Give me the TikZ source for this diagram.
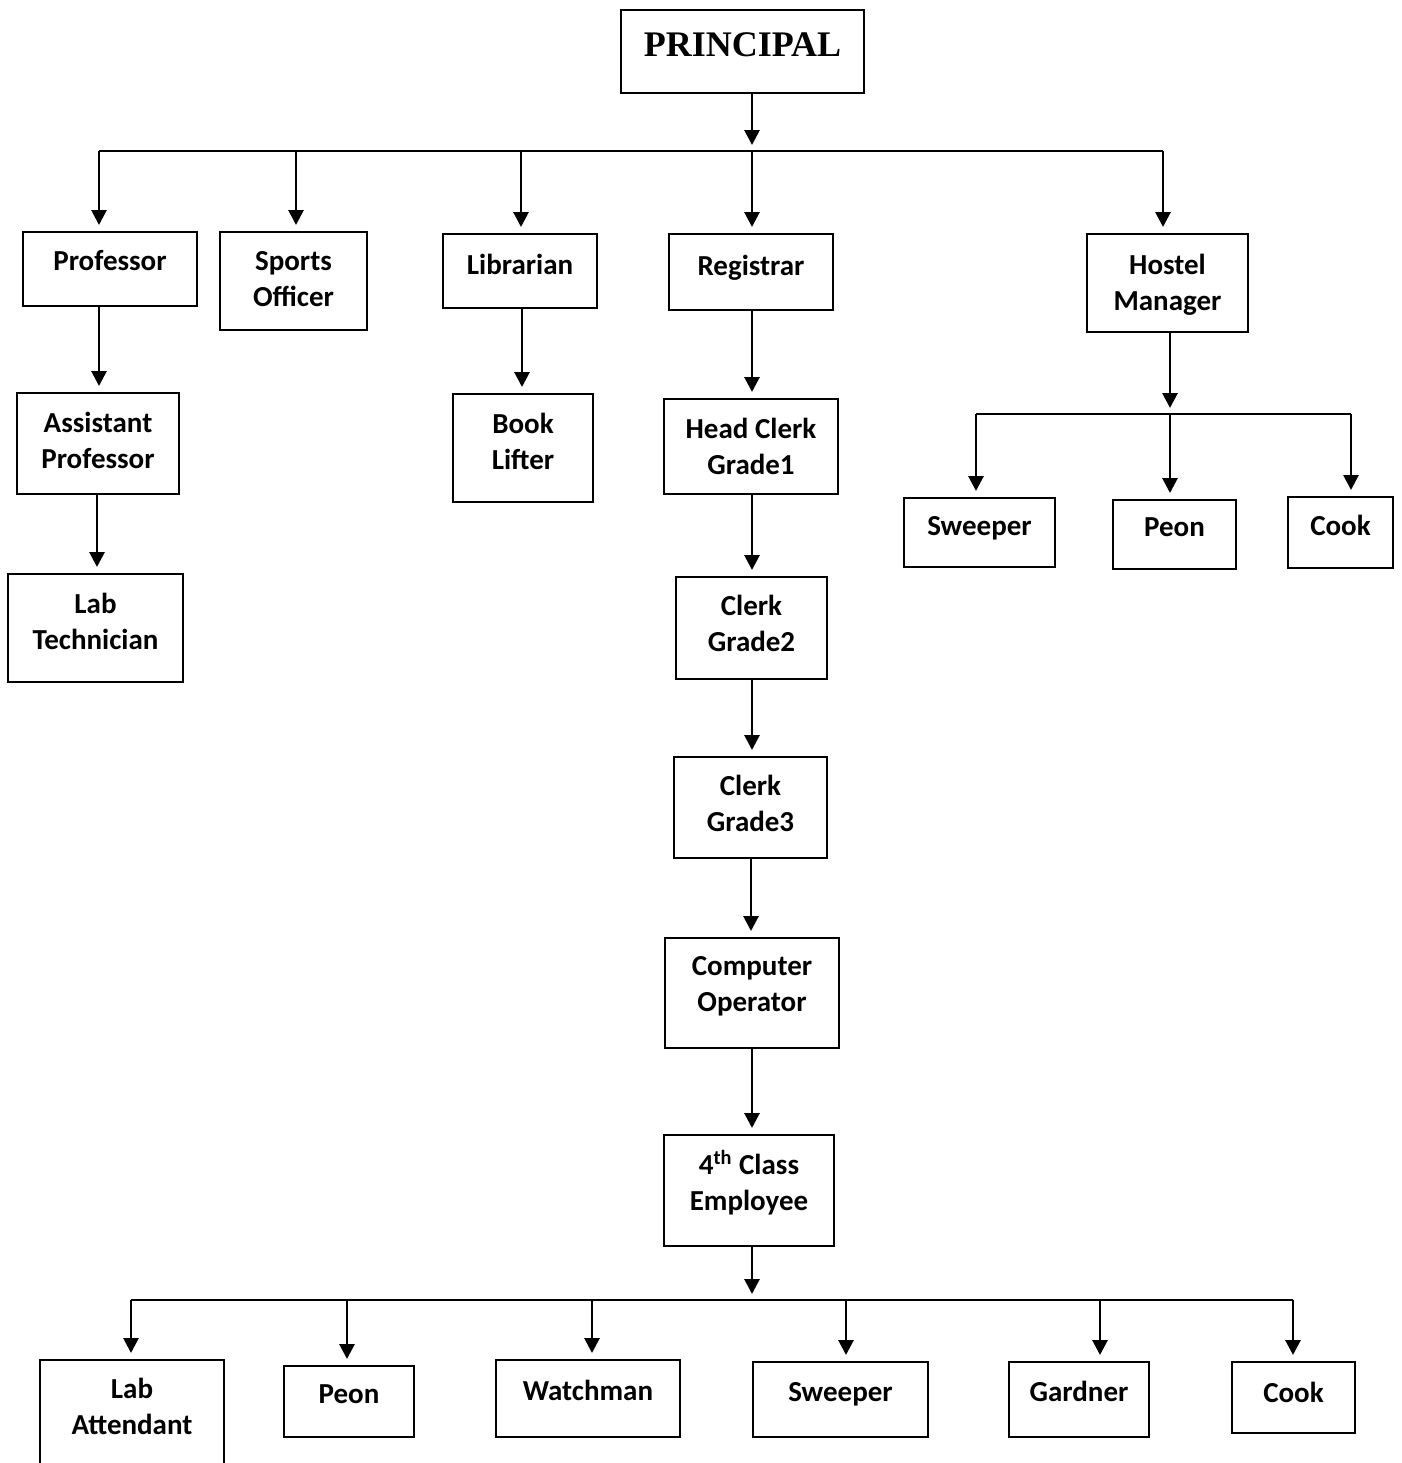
\documentclass[tikz,border=0pt]{standalone}
\usepackage{fontspec}
\setmainfont{Carlito}
\newfontfamily\headfont{Liberation Serif}
\usetikzlibrary{arrows.meta}

\begin{document}
\begin{tikzpicture}[x=0.5pt, y=-0.5pt,
  box/.style = {draw, rectangle, line width=1pt, align=center, inner sep=0pt, text depth=7pt,
                font=\fontsize{14.5}{18}\selectfont\bfseries},
  link/.style = {line width=1.4pt, -{Triangle[width=7.5pt, length=7.5pt]}, shorten >=3pt},
  bar/.style = {line width=1pt}]
\useasboundingbox (0,0) rectangle (1402,1463);

% head
\node[box, minimum width=121.5pt, minimum height=41.5pt,
      font=\fontsize{18}{20}\selectfont\headfont\bfseries] (principal) at (742.5,51.5) {PRINCIPAL};

% first level
\node[box, minimum width=87pt, minimum height=37pt, text depth=9pt] (prof) at (110,269) {Professor};
\node[box, minimum width=73.5pt, minimum height=49pt, text depth=2pt] (sports) at (293.5,281) {Sports\\Officer};
\node[box, minimum width=77pt, minimum height=37pt] (lib) at (520,271) {Librarian};
\node[box, minimum width=82pt, minimum height=38pt] (reg) at (751,272) {Registrar};
\node[box, minimum width=80.5pt, minimum height=49pt, text depth=1pt] (hostel) at (1167.5,283) {Hostel\\Manager};

% professor / library branch
\node[box, minimum width=81pt, minimum height=50.5pt, text depth=3pt] (asst) at (98,443.5) {Assistant\\Professor};
\node[box, minimum width=87.5pt, minimum height=54pt] (labtech) at (95.5,628) {Lab\\Technician};
\node[box, minimum width=70pt, minimum height=54pt] (book) at (523,448) {Book\\Lifter};

% registrar branch
\node[box, minimum width=87pt, minimum height=47.5pt, text depth=0pt] (head) at (751,446.5) {Head Clerk\\Grade1};
\node[box, minimum width=75.5pt, minimum height=51pt, text depth=5pt] (clerk2) at (751.5,628) {Clerk\\Grade2};
\node[box, minimum width=76.5pt, minimum height=50.5pt, text depth=4pt] (clerk3) at (750.5,807.5) {Clerk\\Grade3};
\node[box, minimum width=87pt, minimum height=55pt, text depth=9pt] (comp) at (752,993) {Computer\\Operator};
\node[box, minimum width=85pt, minimum height=55.5pt, text depth=10pt] (fourth) at (749,1190.5) {4\textsuperscript{th} Class\\Employee};

% hostel staff
\node[box, minimum width=75.5pt, minimum height=34.5pt] (hsweep) at (979.5,532.5) {Sweeper};
\node[box, minimum width=61.5pt, minimum height=34.5pt] (hpeon) at (1174.5,534.5) {Peon};
\node[box, minimum width=52.5pt, minimum height=35.5pt] (hcook) at (1340.5,532.5) {Cook};

% 4th class staff
\node[box, minimum width=92pt, minimum height=53pt] (labatt) at (132,1413) {Lab\\Attendant};
\node[box, minimum width=65pt, minimum height=35.5pt] (bpeon) at (349,1401.5) {Peon};
\node[box, minimum width=92pt, minimum height=38.5pt, text depth=8pt] (watch) at (588,1398.5) {Watchman};
\node[box, minimum width=87.5pt, minimum height=37.5pt, text depth=8pt] (bsweep) at (840.5,1399.5) {Sweeper};
\node[box, minimum width=70pt, minimum height=37.5pt, text depth=8pt] (gard) at (1079,1399.5) {Gardner};
\node[box, minimum width=61.5pt, minimum height=35.5pt, text depth=5pt] (bcook) at (1293.5,1397.5) {Cook};

% junctions
\coordinate (topL) at (99,151);
\coordinate (topR) at (1163,151);
\coordinate (midL) at (976,414);
\coordinate (midR) at (1351,414);
\coordinate (lowL) at (131,1300);
\coordinate (lowR) at (1293,1300);

\draw[bar] (topL) -- (topR);
\draw[bar] (midL) -- (midR);
\draw[bar] (lowL) -- (lowR);

\draw[link] (principal.south -| 752,0) -- (topL -| 752,0);
\draw[link] (hostel.south -| 1170,0) -- (midL -| 1170,0);
\draw[link] (fourth.south -| 752,0) -- (lowL -| 752,0);

\foreach \n/\x in {prof/99, sports/296, lib/521, reg/752, hostel/1163}
  \draw[link] (topL -| \x,0) -- (\n.north -| \x,0);
\foreach \n/\x in {hsweep/976, hpeon/1170, hcook/1351}
  \draw[link] (midL -| \x,0) -- (\n.north -| \x,0);
\foreach \n/\x in {labatt/131, bpeon/347, watch/592, bsweep/846, gard/1100, bcook/1293}
  \draw[link] (lowL -| \x,0) -- (\n.north -| \x,0);

% chains
\foreach \a/\b/\x in {prof/asst/99, asst/labtech/97, lib/book/522, reg/head/752,
                      head/clerk2/752, clerk2/clerk3/752, clerk3/comp/751, comp/fourth/752}
  \draw[link] (\a.south -| \x,0) -- (\b.north -| \x,0);
\end{tikzpicture}
\end{document}
